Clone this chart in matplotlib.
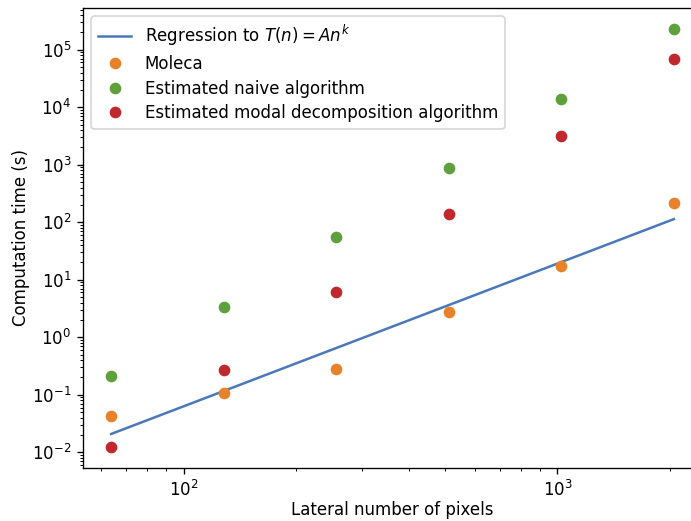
import numpy as np
import matplotlib
matplotlib.use("Agg")
import matplotlib.pyplot as plt
from matplotlib.ticker import LogLocator, NullFormatter

pixels = [64, 128, 256, 512, 1024, 2048]
moleca = [0.042, 0.107, 0.28, 2.8, 17.5, 212]
naive = [0.21, 3.4, 55, 860, 14000, 230000]
modal = [0.0123, 0.27, 6.0, 137, 3100, 70000]

c_blue, c_orange, c_green, c_red = "#4a78b8", "#e8822a", "#5ea03c", "#c0282e"

W, H, DPI = 691, 521, 120
fig = plt.figure(figsize=(W / DPI, H / DPI), dpi=DPI)
ax = fig.add_axes([83 / W, (H - 468) / H, (702 - 83) / W, (468 - 8) / H])

# power-law regression T(n) = A n^k in log space
k, logA = np.polyfit(np.log10(pixels), np.log10(moleca), 1)
xs = np.array(pixels, dtype=float)
ax.plot(xs, 10 ** logA * xs ** k, color=c_blue, label=r"Regression to $T(n) = An^k$")
ax.plot(pixels, moleca, "o", color=c_orange, label="Moleca")
ax.plot(pixels, naive, "o", color=c_green, label="Estimated naive algorithm")
ax.plot(pixels, modal, "o", color=c_red, label="Estimated modal decomposition algorithm")

ax.set_xscale("log")
ax.set_yscale("log")
ax.yaxis.set_minor_locator(LogLocator(base=10, subs=np.arange(2, 10), numticks=100))
ax.yaxis.set_minor_formatter(NullFormatter())
ax.xaxis.set_minor_formatter(NullFormatter())
ax.set_xlabel("Lateral number of pixels", labelpad=1)
ax.set_ylabel("Computation time (s)", labelpad=1)
ax.legend(loc="upper left", labelspacing=0.4)

fig.savefig("out.png", dpi=DPI)
